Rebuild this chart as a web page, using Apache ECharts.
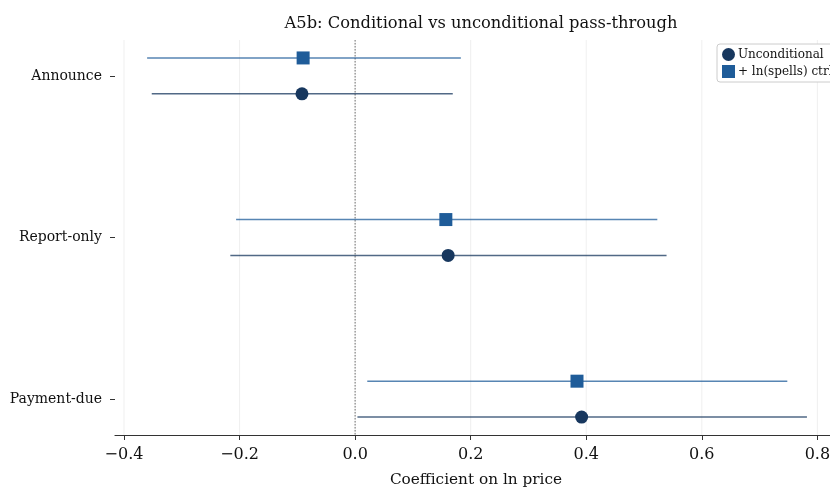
<!DOCTYPE html>
<html><head><meta charset="utf-8">
<script src="https://cdn.jsdelivr.net/npm/echarts@6/dist/echarts.min.js"></script>
<style>html,body{margin:0;padding:0;background:#fff}#c{width:830px;height:488px}</style>
</head><body><div id="c"></div>
<script>
const categories = ['Announce', 'Report-only', 'Payment-due'];
const uncondCoef = [-0.092, 0.161, 0.392];
const uncondLo = [-0.352, -0.216, 0.004];
const uncondHi = [0.169, 0.539, 0.782];
const ctrlCoef = [-0.090, 0.157, 0.384];
const ctrlLo = [-0.360, -0.206, 0.021];
const ctrlHi = [0.183, 0.523, 0.748];
const xTicks = [-0.4, -0.2, 0.0, 0.2, 0.4, 0.6, 0.8];

const OFF = 0.111;
const n = categories.length;
const yPos = i => n - 1 - i;
const FONT = 'DejaVu Serif';
const cUncond = '#17375e';
const cCtrl = '#1f5c99';

function ciSeries(name, lo, hi, off, color) {
  return {
    type: 'custom', name: name + '_ci', silent: true, z: 2,
    data: lo.map((v, i) => [v, hi[i], yPos(i) + off]),
    renderItem: function (params, api) {
      const a = api.coord([api.value(0), api.value(2)]);
      const b = api.coord([api.value(1), api.value(2)]);
      return { type: 'line', shape: { x1: a[0], y1: a[1], x2: b[0], y2: b[1] },
        style: { stroke: color, lineWidth: 1.6, opacity: 0.75 } };
    },
    encode: { x: [0, 1], y: 2 }
  };
}

const chart = echarts.init(document.getElementById('c'), null, { renderer: 'canvas' });
chart.setOption({
  animation: false,
  backgroundColor: '#fff',
  title: { text: 'A5b: Conditional vs unconditional pass-through', left: 476, textAlign: 'center', top: 11,
    textStyle: { fontFamily: FONT, fontWeight: 'normal', fontSize: 16.3, color: '#111' } },
  grid: { left: 115, right: -7, top: 40, bottom: 53, containLabel: false, outerBoundsMode: 'none' },
  legend: {
    orient: 'vertical', left: 717, top: 44, padding: [4, 6, 4, 5], itemGap: 4,
    itemWidth: 13, itemHeight: 13, borderColor: '#ccc', borderWidth: 1, borderRadius: 3,
    backgroundColor: '#fff',
    textStyle: { fontFamily: FONT, fontSize: 12, color: '#111', padding: [0, 0, 0, -2] },
    data: [{ name: 'Unconditional', icon: 'circle' }, { name: '+ ln(spells) ctrl', icon: 'rect' }]
  },
  xAxis: {
    type: 'value', min: -0.4156, max: 0.834,
    name: 'Coefficient on ln price', nameLocation: 'middle', nameGap: 38,
    nameTextStyle: { fontFamily: FONT, fontSize: 15.3, color: '#111' },
    axisLine: { show: true, onZero: false, lineStyle: { color: '#333', width: 1.2 } },
    axisTick: { show: true, customValues: xTicks, length: 5, lineStyle: { color: '#333' } },
    axisLabel: { customValues: xTicks, fontFamily: FONT, fontSize: 16, color: '#111', margin: 12,
      formatter: v => (v < 0 ? '\u2212' : '') + Math.abs(v).toFixed(1) },
    splitLine: { show: false }
  },
  yAxis: {
    type: 'value', min: -0.222, max: 2.222,
    axisLine: { show: false, onZero: false },
    axisTick: { show: true, customValues: [0, 1, 2], length: 5, lineStyle: { color: '#333' } },
    axisLabel: { customValues: [0, 1, 2], fontFamily: FONT, fontSize: 14, color: '#111', margin: 13,
      formatter: v => categories[n - 1 - Math.round(v)] },
    splitLine: { show: false }
  },
  series: [
    {
      type: 'custom', name: 'grid', silent: true, z: 0,
      data: xTicks.map(v => [v]),
      renderItem: function (params, api) {
        const x = api.coord([api.value(0), 0])[0];
        const cs = params.coordSys;
        return { type: 'line', shape: { x1: x, y1: cs.y, x2: x, y2: cs.y + cs.height },
          style: { stroke: '#ebebeb', lineWidth: 0.8 } };
      },
      encode: { x: 0 }
    },
    {
      type: 'custom', name: 'zero', silent: true, z: 1,
      data: [[0]],
      renderItem: function (params, api) {
        const x = api.coord([0, 0])[0];
        const cs = params.coordSys;
        return { type: 'line', shape: { x1: x, y1: cs.y, x2: x, y2: cs.y + cs.height },
          style: { stroke: '#888', lineWidth: 1.2, lineDash: [1.5, 1.5] } };
      },
      encode: { x: 0 }
    },
    ciSeries('Unconditional', uncondLo, uncondHi, -OFF, cUncond),
    ciSeries('+ ln(spells) ctrl', ctrlLo, ctrlHi, OFF, cCtrl),
    {
      type: 'scatter', name: 'Unconditional', symbol: 'circle', symbolSize: 13, z: 5,
      itemStyle: { color: cUncond, opacity: 1 },
      data: uncondCoef.map((v, i) => [v, yPos(i) - OFF])
    },
    {
      type: 'scatter', name: '+ ln(spells) ctrl', symbol: 'rect', symbolSize: 13, z: 5,
      itemStyle: { color: cCtrl, opacity: 1 },
      data: ctrlCoef.map((v, i) => [v, yPos(i) + OFF])
    }
  ]
});
</script></body></html>
